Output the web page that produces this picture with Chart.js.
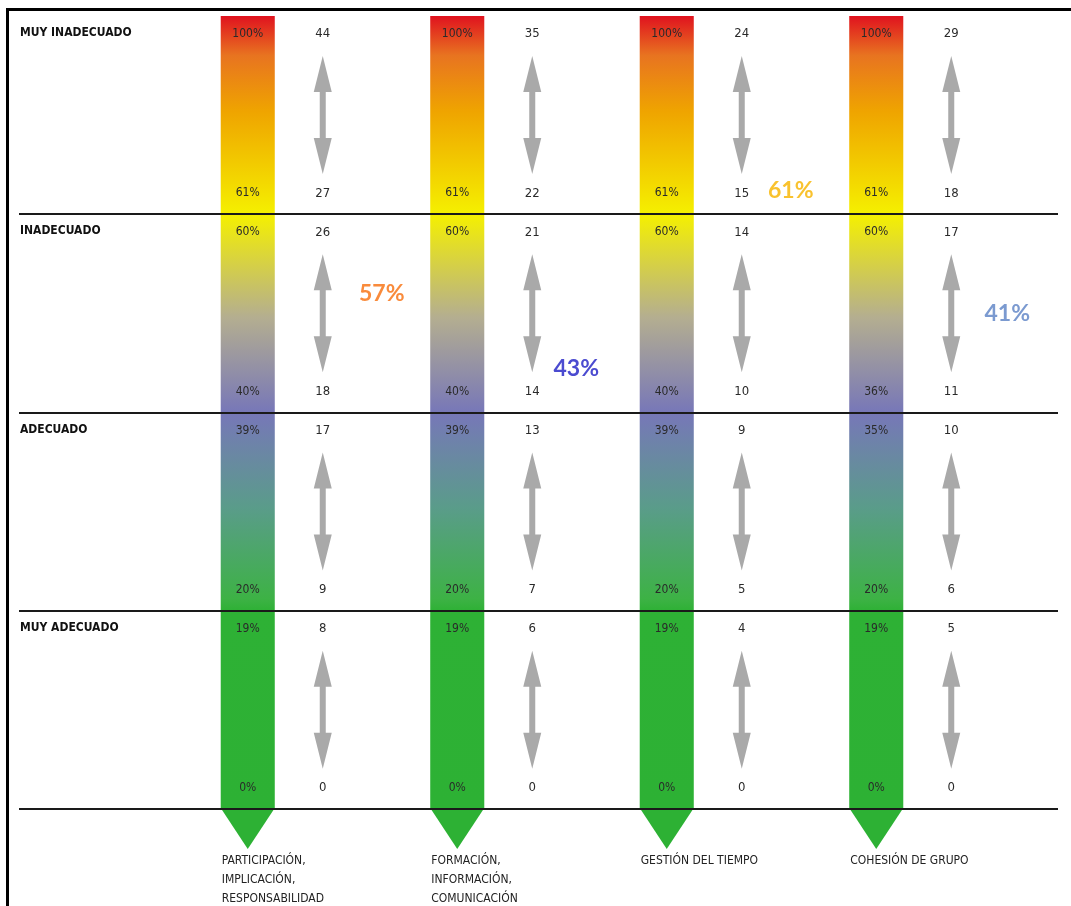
<!DOCTYPE html>
<html>
<head>
<meta charset="utf-8">
<script src="https://cdn.jsdelivr.net/npm/chart.js@4"></script>
<style>
  body { margin: 0; background: #fff; }
  canvas { display: block; }
</style>
</head>
<body>
<canvas id="grafico" width="1071" height="906"></canvas>
<script>
// categorias (eje x) y niveles (bandas del eje y, de arriba a abajo)
const categorias = [
  ['PARTICIPACIÓN,', 'IMPLICACIÓN,', 'RESPONSABILIDAD'],
  ['FORMACIÓN,', 'INFORMACIÓN,', 'COMUNICACIÓN'],
  ['GESTIÓN DEL TIEMPO'],
  ['COHESIÓN DE GRUPO']
]
const niveles = ['MUY INADECUADO', 'INADECUADO', 'ADECUADO', 'MUY ADECUADO']

// cada barra ocupa las 4 bandas
const rangoBarras = [[0, 4], [0, 4], [0, 4], [0, 4]]

// limites de cada banda (arriba, abajo) en porcentaje
const pctGeneral = ['100%', '61%', '60%', '40%', '39%', '20%', '19%', '0%']
const pctCohesion = ['100%', '61%', '60%', '36%', '35%', '20%', '19%', '0%']
const pctBarras = [pctGeneral, pctGeneral, pctGeneral, pctCohesion]

// puntuaciones (arriba, abajo) de cada banda
const puntosParticipacion = [44, 27, 26, 18, 17, 9, 8, 0]
const puntosFormacion = [35, 22, 21, 14, 13, 7, 6, 0]
const puntosGestion = [24, 15, 14, 10, 9, 5, 4, 0]
const puntosCohesion = [29, 18, 17, 11, 10, 6, 5, 0]
const puntosBarras = [puntosParticipacion, puntosFormacion, puntosGestion, puntosCohesion]

// resultado de cada categoria
const resultados = ['57%', '43%', '61%', '41%']
const coloresResultado = ['#f98b3c', '#4b4bd0', '#f9c22e', '#7b9ad0']
// posicion del resultado: desplazamiento x desde la barra y valor en bandas
const posResultado = [[134, 2.60], [119, 2.22], [124, 3.12], [131, 2.50]]

const fuenteEstrecha = '"Liberation Sans Narrow", "DejaVu Sans Condensed", sans-serif'

function degradado(context) {
  const chart = context.chart
  const area = chart.chartArea
  if (!area) return '#2db134'
  const y = chart.scales.y
  const g = chart.ctx.createLinearGradient(0, y.getPixelForValue(0), 0, y.getPixelForValue(4))
  g.addColorStop(0, '#2db134')
  g.addColorStop(0.25, '#2eb135')
  g.addColorStop(0.265, '#3db245')
  g.addColorStop(0.38, '#5a9c8a')
  g.addColorStop(0.5, '#7777b8')
  g.addColorStop(0.62, '#b4ae90')
  g.addColorStop(0.75, '#f5f000')
  g.addColorStop(0.88, '#efa400')
  g.addColorStop(0.95, '#e87420')
  g.addColorStop(1, '#e0121f')
  return g
}

const decoracion = {
  id: 'decoracion',
  afterDatasetsDraw(chart) {
    const ctx = chart.ctx
    const y = chart.scales.y
    const barras = chart.getDatasetMeta(0).data

    ctx.save()
    // punta de flecha bajo cada barra
    ctx.fillStyle = '#2db134'
    barras.forEach(el => {
      const yb = y.getPixelForValue(0)
      ctx.beginPath()
      ctx.moveTo(el.x - el.width / 2, yb - 1)
      ctx.lineTo(el.x + el.width / 2, yb - 1)
      ctx.lineTo(el.x, yb + 40)
      ctx.closePath()
      ctx.fill()
    })

    // marco
    ctx.fillStyle = '#000'
    ctx.fillRect(6, 8, 3, 906)
    ctx.fillRect(6, 8, 1065, 3)

    // lineas entre niveles
    ctx.strokeStyle = '#1a1a1a'
    ctx.lineWidth = 2
    for (let v = 0; v <= 3; v++) {
      const py = Math.round(y.getPixelForValue(v))
      ctx.beginPath()
      ctx.moveTo(19, py)
      ctx.lineTo(1058, py)
      ctx.stroke()
    }

    // nombres de nivel
    ctx.fillStyle = '#111'
    ctx.font = 'bold 12px ' + fuenteEstrecha
    ctx.textAlign = 'left'
    ctx.textBaseline = 'middle'
    niveles.forEach((n, b) => {
      ctx.fillText(n, 20, y.getPixelForValue(4 - b) + 17)
    })

    barras.forEach((el, i) => {
      const cx = el.x + 75
      for (let b = 0; b < 4; b++) {
        const top = y.getPixelForValue(4 - b)
        const bot = y.getPixelForValue(3 - b)
        ctx.textAlign = 'center'
        ctx.fillStyle = '#2a2a2a'
        ctx.font = '12px ' + fuenteEstrecha
        ctx.fillText(pctBarras[i][b * 2], el.x, top + 18)
        ctx.fillText(pctBarras[i][b * 2 + 1], el.x, bot - 21)
        ctx.font = '13px ' + fuenteEstrecha
        ctx.fillText(puntosBarras[i][b * 2], cx, top + 18)
        ctx.fillText(puntosBarras[i][b * 2 + 1], cx, bot - 21)

        // flecha doble
        const y1 = top + 40, y2 = top + 158
        ctx.fillStyle = '#a9a9a9'
        ctx.beginPath()
        ctx.moveTo(cx, y1)
        ctx.lineTo(cx + 9, y1 + 36)
        ctx.lineTo(cx + 3, y1 + 36)
        ctx.lineTo(cx + 3, y2 - 36)
        ctx.lineTo(cx + 9, y2 - 36)
        ctx.lineTo(cx, y2)
        ctx.lineTo(cx - 9, y2 - 36)
        ctx.lineTo(cx - 3, y2 - 36)
        ctx.lineTo(cx - 3, y1 + 36)
        ctx.lineTo(cx - 9, y1 + 36)
        ctx.closePath()
        ctx.fill()
      }

      // resultado
      ctx.font = 'bold 23px Lato, "Open Sans", sans-serif'
      ctx.fillStyle = coloresResultado[i]
      ctx.textAlign = 'center'
      ctx.fillText(resultados[i], el.x + posResultado[i][0], y.getPixelForValue(posResultado[i][1]))

      // etiqueta de categoria
      ctx.font = '12px ' + fuenteEstrecha
      ctx.fillStyle = '#222'
      ctx.textAlign = 'left'
      categorias[i].forEach((linea, k) => {
        ctx.fillText(linea, el.x - el.width / 2 + 1, 861 + k * 19)
      })
    })
    ctx.restore()
  }
}

new Chart(document.getElementById('grafico'), {
  type: 'bar',
  data: {
    labels: categorias.map(c => c.join(' ')),
    datasets: [{
      data: rangoBarras,
      backgroundColor: degradado,
      borderWidth: 0,
      barPercentage: 0.258,
      categoryPercentage: 1
    }]
  },
  options: {
    responsive: false,
    animation: false,
    devicePixelRatio: 1,
    layout: { padding: { left: 143, right: 90, top: 16, bottom: 97 } },
    plugins: {
      legend: { display: false },
      tooltip: { enabled: false }
    },
    scales: {
      x: { display: false },
      y: { display: false, min: 0, max: 4 }
    }
  },
  plugins: [decoracion]
})
</script>
</body>
</html>
